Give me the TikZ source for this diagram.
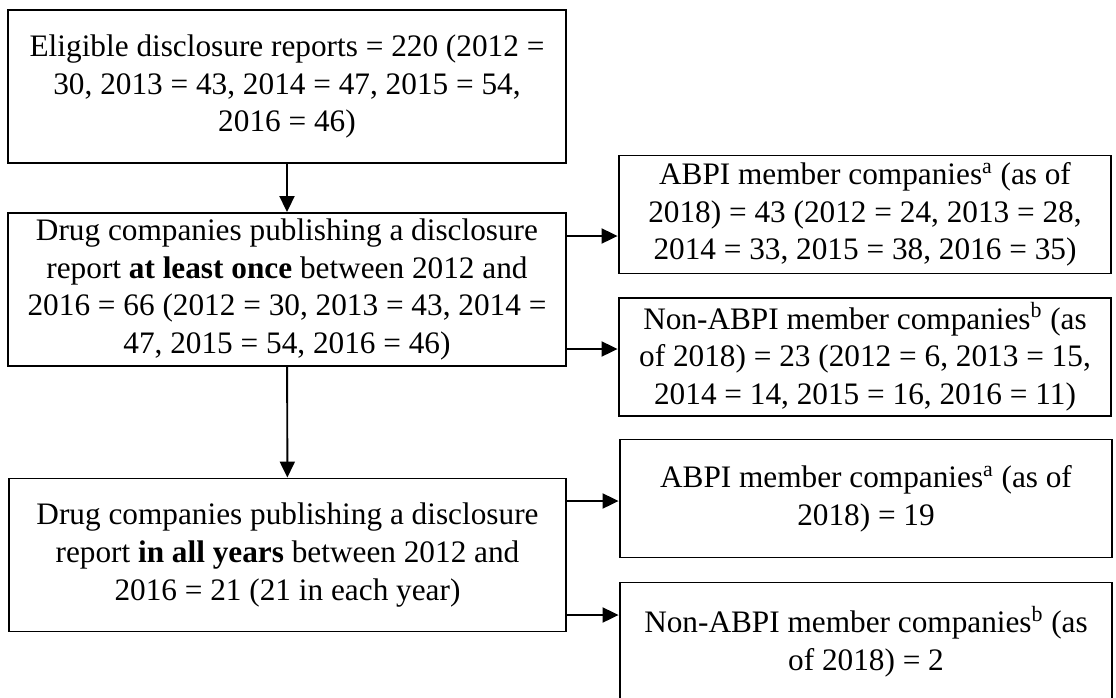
\documentclass[tikz,border=0pt]{standalone}
\usepackage{fontspec}
\setmainfont{Liberation Serif}
\usetikzlibrary{arrows.meta}

\begin{document}
\begin{tikzpicture}[x=0.02cm,y=-0.02cm,->,>={Triangle[length=3.2mm,width=3mm]},line width=1.1pt,
  box node/.style={draw,rectangle,align=center,inner sep=0pt,font=\fontsize{17.8}{21.5}\selectfont},
  left node/.style={box node,minimum width=11.16cm,minimum height=3.06cm},
  right node/.style={box node,minimum width=9.86cm,minimum height=2.36cm}]

            \useasboundingbox (0,0) rectangle (1116,697);

            \node[left node] (1) at (287,86.5) {Eligible disclosure reports = 220 (2012 =\\ 30, 2013 = 43, 2014 = 47, 2015 = 54,\\ 2016 = 46)};
            \node[left node] (2) at (287,289.5) {Drug companies publishing a disclosure\\ report \textbf{at least once} between 2012 and\\ 2016 = 66 (2012 = 30, 2013 = 43, 2014 =\\ 47, 2015 = 54, 2016 = 46)};
            \node[left node] (3) at (287.5,555) {Drug companies publishing a disclosure\\ report \textbf{in all years} between 2012 and\\ 2016 = 21 (21 in each year)};

            \node[right node] (4) at (865,214.5) {ABPI member companies\textsuperscript{a} (as of\\ 2018) = 43 (2012 = 24, 2013 = 28,\\ 2014 = 33, 2015 = 38, 2016 = 35)};
            \node[right node] (5) at (865,357) {Non-ABPI member companies\textsuperscript{b} (as\\ of 2018) = 23 (2012 = 6, 2013 = 15,\\ 2014 = 14, 2015 = 16, 2016 = 11)};
            \node[right node] (6) at (866,498.5) {ABPI member companies\textsuperscript{a} (as of\\ 2018) = 19};
            \node[right node] (7) at (866,641.5) {Non-ABPI member companies\textsuperscript{b} (as\\ of 2018) = 2};

            \draw (1) to (2);
            \draw (2) to (3);
            \draw (2.east |- 0,236) to (4.west |- 0,236);
            \draw (2.east |- 0,349) to (5.west |- 0,349);
            \draw (3.east |- 0,501) to (6.west |- 0,501);
            \draw (3.east |- 0,615) to (7.west |- 0,615);

            ;
        \end{tikzpicture}
\end{document}
